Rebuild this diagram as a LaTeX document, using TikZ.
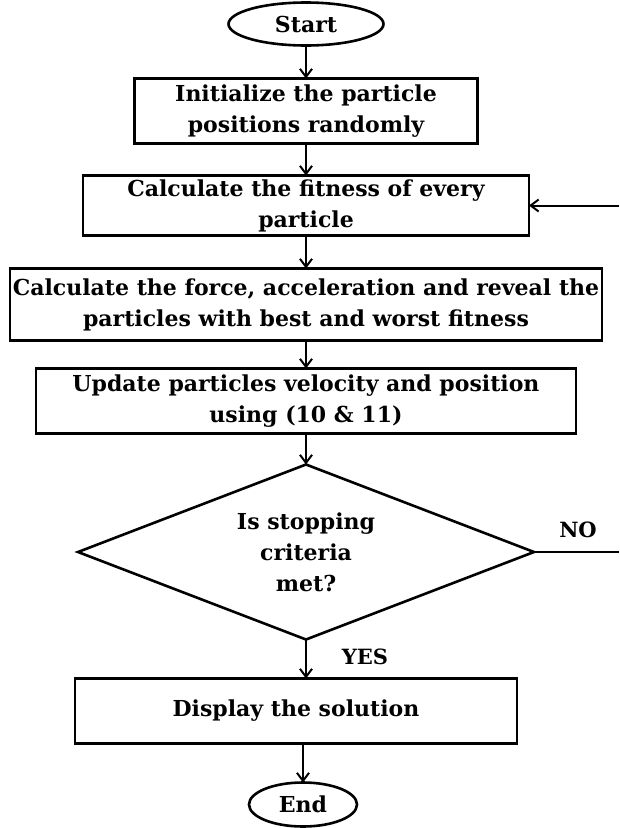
\documentclass[tikz,border=0pt]{standalone}
\usepackage{fontspec}
\setmainfont{DejaVu Serif}
\usetikzlibrary{positioning, shapes.geometric, arrows.meta}

\begin{document}
\begin{tikzpicture}[
    line width=2.6pt,
    every node/.style={outer sep=0pt},
    txt/.style={font=\bfseries\fontsize{22}{31}\selectfont, align=center},
    terminal/.style={txt, draw, ellipse, inner sep=0pt, minimum width=155pt, minimum height=43pt},
    procbox/.style={txt, draw, rectangle, inner sep=0pt, minimum height=65pt},
    decision/.style={txt, draw, diamond, aspect=2.6, inner sep=0pt, minimum width=456pt, minimum height=175pt},
    flow/.style={line width=2pt, -{Straight Barb[length=8pt, width=12pt, line width=2pt]}},
    answer/.style={font=\bfseries\fontsize{21}{24}\selectfont}
]
\useasboundingbox (0pt,0pt) rectangle (619pt,-828pt);

% ---------- Terminals and steps ----------
\node[terminal] (start) at (306pt,-24pt) {Start};
\node[procbox, minimum width=343pt, below=33pt of start] (init) {Initialize the particle\\positions randomly};
\node[procbox, minimum width=446pt, minimum height=60pt, below=32pt of init] (fitness) {Calculate the fitness of every\\particle};
\node[procbox, minimum width=592pt, minimum height=72pt, below=33pt of fitness] (force) {Calculate the force, acceleration and reveal the\\particles with best and worst fitness};
\node[procbox, minimum width=540pt, below=28pt of force] (update) {Update particles velocity and position\\using (10 \& 11)};

% ---------- Decision ----------
\node[decision, below=31pt of update] (stop) {Is stopping\\criteria\\met?};

\node[procbox, minimum width=442pt, below=39pt of stop, xshift=-10pt] (display) {Display the solution};
\node[terminal, minimum width=108pt, minimum height=44pt, below=39pt of display, xshift=7pt] (end) {End};

% ---------- Connectors ----------
\draw[flow] (start.south) -- (start.south |- init.north);
\draw[flow] (init.south) -- (init.south |- fitness.north);
\draw[flow] (fitness.south) -- (fitness.south |- force.north);
\draw[flow] (force.south) -- (force.south |- update.north);
\draw[flow] (update.south -| stop.north) -- (stop.north);
\draw[flow] (stop.south) -- (stop.south |- display.north);
\draw[flow] (end.north |- display.south) -- (end.north);

% loop back (runs off the right edge)
\coordinate (rim) at (619pt,0pt);
\draw (stop.east) -- (stop.east -| rim);
\draw[flow] (fitness.east -| rim) -- (fitness.east);

\node[answer] (no) at (578pt,-530pt) {NO};
\node[answer] (yes) at (365pt,-657pt) {YES};

\end{tikzpicture}
\end{document}
